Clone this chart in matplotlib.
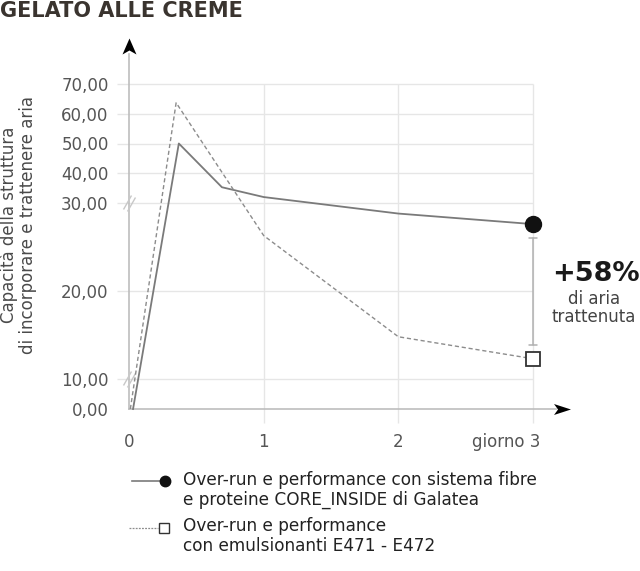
import numpy as np
import matplotlib
matplotlib.use("Agg")
import matplotlib.pyplot as plt
from matplotlib.path import Path
from matplotlib.lines import Line2D

# ---------------- data ----------------
title = "GELATO ALLE CREME"
y_label = "Capacità della struttura\ndi incorporare e trattenere aria"
y_ticks = [0, 10, 20, 30, 40, 50, 60, 70]
y_tick_labels = ["0,00", "10,00", "20,00", "30,00", "40,00", "50,00", "60,00", "70,00"]
x_ticks = [0, 1, 2, 3]
x_tick_labels = ["0", "1", "2", "giorno 3"]
y_breaks = [10, 30]

core_x = [0.03, 0.37, 0.69, 1.0, 2.0, 3.0]
core_y = [0.0, 50.0, 35.3, 32.0, 28.8, 27.6]
emul_x = [0.01, 0.35, 1.0, 2.0, 3.0]
emul_y = [0.0, 63.7, 26.3, 14.8, 12.3]

core_label = "Over-run e performance con sistema fibre\ne proteine CORE_INSIDE di Galatea"
emul_label = "Over-run e performance\ncon emulsionanti E471 - E472"
gain_text = "+58%"
gain_sub = "di aria\ntrattenuta"

# --------------- broken (piecewise) y scale ---------------
BP_V = [-100, 0, 10, 30, 70, 200]
BP_P = [-300, 0, 30, 206, 325, 715]


def fwd(v):
    return np.interp(v, BP_V, BP_P)


def inv(p):
    return np.interp(p, BP_P, BP_V)


W, H = 640, 571
fig = plt.figure(figsize=(W / 100, H / 100), dpi=100)

# pixel geometry
X0 = 129.0      # pixel of x = 0
XU = 134.67     # pixels per x unit
Y0 = 409.0      # pixel (from top) of y = 0
L, R, B, T = 117, 600, 425, 30

ax = fig.add_axes([L / W, (H - B) / H, (R - L) / W, (B - T) / H])
ax.set_yscale("function", functions=(fwd, inv))
ax.set_xlim((L - X0) / XU, (R - X0) / XU)
ax.set_ylim(inv(Y0 - B), inv(Y0 - T))
for s in ax.spines.values():
    s.set_visible(False)

grid_c = "#e6e6e6"
# grid lines
ax.hlines(y_ticks[1:], (L - X0) / XU, x_ticks[-1], color=grid_c, lw=1, zorder=0)
ax.vlines(x_ticks[1:], inv(Y0 - 423), y_ticks[-1], color=grid_c, lw=1, zorder=0)

# axis lines
axis_c = "#bdbdbd"
ax.plot([0, 0], [0, inv(Y0 - 54)], color=axis_c, lw=1.2, zorder=1, clip_on=False)
ax.plot([0, (556 - X0) / XU], [0, 0], color=axis_c, lw=1.2, zorder=1, clip_on=False)

up_arrow = Path([(0, 8), (7, -8), (0, -4), (-7, -8), (0, 8)],
                [Path.MOVETO, Path.LINETO, Path.LINETO, Path.LINETO, Path.CLOSEPOLY])
right_arrow = Path([(8.5, 0), (-8.5, 5.5), (-4.5, 0), (-8.5, -5.5), (8.5, 0)],
                   [Path.MOVETO, Path.LINETO, Path.LINETO, Path.LINETO, Path.CLOSEPOLY])
ax.plot([0], [inv(Y0 - 46)], marker=up_arrow, ms=11.5, color="black", mew=0,
        clip_on=False, zorder=3)
ax.plot([(561.5 - X0) / XU], [0], marker=right_arrow, ms=12.2, color="black", mew=0,
        clip_on=False, zorder=3)

# break marks
slash = Path([(-6, -6), (2, 8), (-2, -8), (6, 6)],
             [Path.MOVETO, Path.LINETO, Path.MOVETO, Path.LINETO])
ax.plot([0] * len(y_breaks), y_breaks, ls="none", marker=slash, ms=11.5,
        mec="#c8c8c8", mfc="none", mew=1.0, zorder=2, clip_on=False)

# ticks
ax.set_yticks(y_ticks)
ax.set_yticklabels(y_tick_labels)
ax.tick_params(axis="y", length=0, pad=6, labelsize=12, labelcolor="#555555")
ax.set_xticks([])
for xv, lab in zip(x_ticks, x_tick_labels):
    ha = "right" if lab != str(xv) else "center"
    dx = 5.5 if ha == "right" else 0
    ax.annotate(lab, xy=(xv, 0), xycoords=("data", "axes fraction"),
                xytext=(dx, -6), textcoords="offset points",
                ha=ha, va="top", fontsize=12, color="#555555")

# series
line_c = "#7a7a7a"
ax.plot(core_x, core_y, color=line_c, lw=1.3, zorder=4, clip_on=False)
ax.plot(emul_x, emul_y, color="#8c8c8c", lw=1.0, ls=(0, (3, 2)), zorder=4,
        clip_on=False)
ax.plot(core_x[-1:], core_y[-1:], marker="o", ms=11.5, color="#111111",
        zorder=6, clip_on=False)
ax.plot(emul_x[-1:], emul_y[-1:], marker="s", ms=10, mfc="white",
        mec="#333333", mew=1.3, zorder=6, clip_on=False)

# bracket between the two final values
ax.annotate("", xy=(emul_x[-1], emul_y[-1]), xytext=(core_x[-1], core_y[-1]),
            arrowprops=dict(arrowstyle="|-|,widthA=0.3,widthB=0.3", color="#b0b0b0",
                            lw=1.1, shrinkA=10, shrinkB=10), zorder=5)

# gain annotation
fig.text(596 / W, 1 - 274 / H, gain_text, ha="center", va="center",
         fontsize=19.5, fontweight="bold", color="#1a1a1a")
fig.text(594 / W, 1 - 308 / H, gain_sub, ha="center", va="center",
         fontsize=12, color="#444444", linespacing=1.05)

# title and y label
fig.text(0, 1 - 1 / H, title, ha="left", va="top", fontsize=15,
         fontweight="bold", color="#3a342f")
fig.text(18 / W, 1 - 225 / H, y_label, ha="center", va="center", rotation=90,
         fontsize=12, color="#4a4a4a", linespacing=1.1)

# legend (manual)
tf = fig.transFigure


def fx(px):
    return px / W


def fy(py):
    return 1 - py / H


fig.add_artist(Line2D([fx(132), fx(162)], [fy(481), fy(481)], transform=tf,
                      color=line_c, lw=1.2))
fig.add_artist(Line2D([fx(165)], [fy(481)], transform=tf, marker="o", ms=7.5,
                      color="#111111"))
fig.add_artist(Line2D([fx(129), fx(158)], [fy(528), fy(528)], transform=tf,
                      color="#8c8c8c", lw=0.9, ls=(0, (1.5, 1))))
fig.add_artist(Line2D([fx(163.5)], [fy(528)], transform=tf, marker="s", ms=7.5,
                      mfc="white", mec="#333333", mew=1.0))
fig.text(fx(183), fy(471), core_label, ha="left", va="top", fontsize=12.2,
         color="#222222", linespacing=1.15)
fig.text(fx(183), fy(517), emul_label, ha="left", va="top", fontsize=12.2,
         color="#222222", linespacing=1.15)

fig.savefig("out.png", dpi=100)
